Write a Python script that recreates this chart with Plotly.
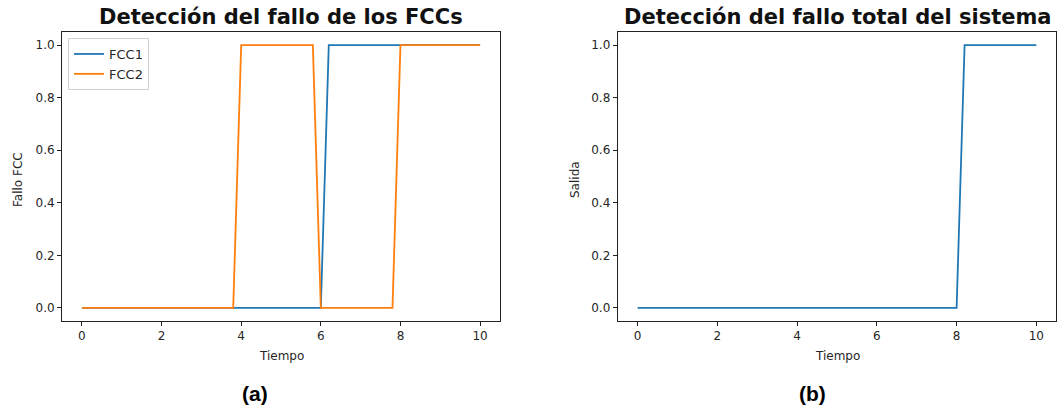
import plotly.graph_objects as go

# Data (breakpoints of the step signals, time step 0.2)
t_fcc1 = [0, 6.0, 6.2, 10]
fcc1 = [0, 0, 1, 1]
t_fcc2 = [0, 3.8, 4.0, 5.8, 6.0, 7.8, 8.0, 10]
fcc2 = [0, 0, 1, 1, 0, 0, 1, 1]
t_sys = [0, 8.0, 8.2, 10]
salida = [0, 0, 1, 1]

x_ticks = [0, 2, 4, 6, 8, 10]
y_ticks = [0.0, 0.2, 0.4, 0.6, 0.8, 1.0]
y_ticklabels = ["0.0", "0.2", "0.4", "0.6", "0.8", "1.0"]

BLUE = "#1f77b4"
ORANGE = "#ff7f0e"
W, H = 1059, 411

fig = go.Figure()
fig.add_trace(go.Scatter(x=t_fcc1, y=fcc1, mode="lines", name="FCC1",
                         line=dict(color=BLUE, width=1.8), xaxis="x", yaxis="y"))
fig.add_trace(go.Scatter(x=t_fcc2, y=fcc2, mode="lines", name="FCC2",
                         line=dict(color=ORANGE, width=1.8), xaxis="x", yaxis="y"))
fig.add_trace(go.Scatter(x=t_sys, y=salida, mode="lines", name="Salida",
                         line=dict(color=BLUE, width=1.8), xaxis="x2", yaxis="y2",
                         showlegend=False))

ydom = [1 - 321 / H, 1 - 32 / H]
axis_common = dict(showline=True, mirror=True, linecolor="#222", linewidth=1,
                   ticks="outside", ticklen=4, tickwidth=1, tickcolor="#222",
                   showgrid=False, zeroline=False,
                   tickfont=dict(family="DejaVu Sans", size=12, color="#262626"))

fig.update_layout(
    width=W, height=H, margin=dict(l=0, r=0, t=0, b=0),
    plot_bgcolor="white", paper_bgcolor="white",
    xaxis=dict(domain=[62 / W, 500 / W], range=[-0.5, 10.5], tickvals=x_ticks,
               anchor="y", **axis_common),
    yaxis=dict(domain=ydom, range=[-0.05, 1.05], tickvals=y_ticks,
               ticktext=y_ticklabels, anchor="x", **axis_common),
    xaxis2=dict(domain=[617.7 / W, 1056.3 / W], range=[-0.5, 10.5], tickvals=x_ticks,
                anchor="y2", **axis_common),
    yaxis2=dict(domain=ydom, range=[-0.05, 1.05], tickvals=y_ticks,
                ticktext=y_ticklabels, anchor="x2", **axis_common),
    legend=dict(x=68 / W, y=1 - 38 / H, xanchor="left", yanchor="top",
                bgcolor="rgba(255,255,255,0.8)", bordercolor="#d0d0d0", borderwidth=1,
                font=dict(family="DejaVu Sans", size=13, color="#262626"),
                itemwidth=30, tracegroupgap=0),
    showlegend=True,
)

def ann(text, x, y, size, bold=False, family="DejaVu Sans", angle=0, color="#262626"):
    fig.add_annotation(text=f"<b>{text}</b>" if bold else text,
                       x=x / W, y=1 - y / H, xref="paper", yref="paper",
                       showarrow=False, textangle=angle, xanchor="center", yanchor="middle",
                       font=dict(family=family, size=size, color=color))

# Titles
ann("Detección del fallo de los FCCs", 281, 17, 21, bold=True, color="#111")
ann("Detección del fallo total del sistema", 837, 17, 21, bold=True, color="#111")
# Axis titles
ann("Tiempo", 281, 356, 12)
ann("Tiempo", 837, 356, 12)
ann("Fallo FCC", 18, 180, 12, angle=-90)
ann("Salida", 575, 180, 12, angle=-90)
# Panel labels
ann("(a)", 255, 393, 21, bold=True, family="Liberation Sans", color="#000")
ann("(b)", 812, 393, 21, bold=True, family="Liberation Sans", color="#000")

fig.write_html("out.html")
